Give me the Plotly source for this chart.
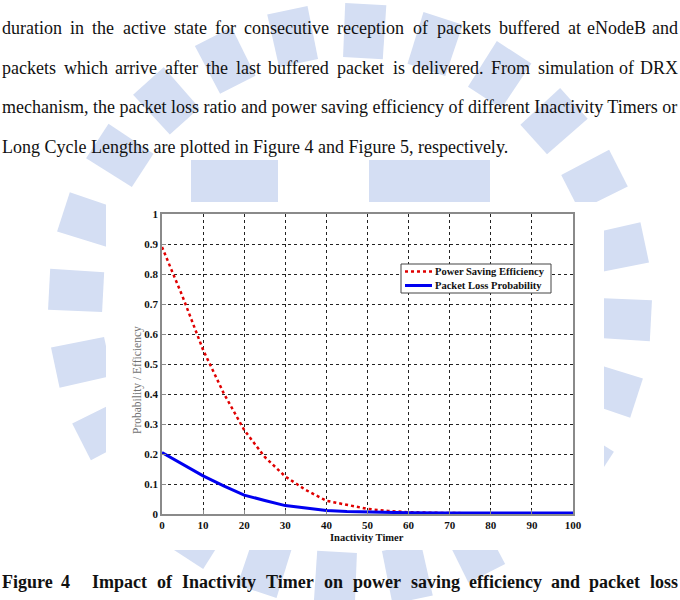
import math
import plotly.graph_objects as go

# ---- data ----
inactivity_timer = [0, 5, 10, 15, 20, 25, 30, 35, 40, 45, 50, 55, 60, 70, 80, 90, 100]
power_saving_eff = [0.89, 0.725, 0.547, 0.403, 0.28, 0.19, 0.125, 0.08, 0.044, 0.03, 0.017, 0.01, 0.006, 0.003, 0.002, 0.002, 0.002]
packet_loss_prob = [0.205, 0.165, 0.127, 0.094, 0.063, 0.045, 0.028, 0.02, 0.012, 0.008, 0.006, 0.005, 0.004, 0.003, 0.003, 0.003, 0.003]
x_ticks = [0, 10, 20, 30, 40, 50, 60, 70, 80, 90, 100]
y_ticks = [0, 0.1, 0.2, 0.3, 0.4, 0.5, 0.6, 0.7, 0.8, 0.9, 1]
y_tick_labels = ["0", "0.1", "0.2", "0.3", "0.4", "0.5", "0.6", "0.7", "0.8", "0.9", "1"]
series_names = ["Power Saving Efficiency", "Packet Loss Probability"]
series_colors = ["#e00000", "#0000f0"]

W, H = 680, 600
def px(x):
    return x / W
def py(y):
    return 1 - y / H

SERIF = "Liberation Serif"

fig = go.Figure()
fig.add_trace(go.Scatter(
    x=inactivity_timer, y=power_saving_eff, mode="lines", name=series_names[0],
    line=dict(color=series_colors[0], width=2.5, dash="dot"), showlegend=False,
))
fig.add_trace(go.Scatter(
    x=inactivity_timer, y=packet_loss_prob, mode="lines", name=series_names[1],
    line=dict(color=series_colors[1], width=3), showlegend=False, cliponaxis=False,
))

axis_common = dict(
    showline=True, linecolor="#8a8a8a", linewidth=1.5, mirror=True,
    showgrid=True, gridcolor="#222222", griddash="dot", gridwidth=1,
    zeroline=False, ticks="inside", ticklen=4, tickcolor="#8a8a8a",
    tickfont=dict(family=SERIF, size=11, color="#111111", weight="bold"),
    automargin=False,
)
fig.update_xaxes(range=[0, 100], tickvals=x_ticks, domain=[px(162), px(573)], **axis_common)
fig.update_yaxes(range=[0, 1], tickvals=y_ticks, ticktext=y_tick_labels,
                 domain=[py(514), py(214)], **axis_common)

# ---- faint watermark (ring of radial bars + blocks), drawn below everything ----
shapes = []
WM = "#d4def3"
cx, cy, r_in, r_out = 350, 305, 248, 302
n_bars, half_w = 24, 4.6
for i in range(n_bars):
    a = math.radians(i * 360 / n_bars + 3)
    d = math.radians(half_w)
    pts = [(cx + r_in * math.cos(a - d), cy + r_in * math.sin(a - d)),
           (cx + r_out * math.cos(a - d * 0.85), cy + r_out * math.sin(a - d * 0.85)),
           (cx + r_out * math.cos(a + d * 0.85), cy + r_out * math.sin(a + d * 0.85)),
           (cx + r_in * math.cos(a + d), cy + r_in * math.sin(a + d))]
    path = "M " + " L ".join(f"{px(x):.5f},{py(y):.5f}" for x, y in pts) + " Z"
    shapes.append(dict(type="path", path=path, xref="paper", yref="paper",
                       fillcolor=WM, line=dict(width=0), layer="below"))
for (x0, y0, x1, y1) in [(191, 160, 278, 205), (369, 160, 490, 205)]:
    shapes.append(dict(type="rect", xref="paper", yref="paper", x0=px(x0), x1=px(x1),
                       y0=py(y1), y1=py(y0), fillcolor=WM, line=dict(width=0), layer="below"))
# opaque chart image area
shapes.append(dict(type="rect", xref="paper", yref="paper", x0=px(106), x1=px(604),
                   y0=py(550), y1=py(202), fillcolor="white", line=dict(width=0), layer="below"))

# ---- legend box (drawn) ----
shapes.append(dict(type="rect", xref="paper", yref="paper", x0=px(401), x1=px(551),
                   y0=py(293), y1=py(264), fillcolor="white",
                   line=dict(color="#444444", width=1), layer="above"))
shapes.append(dict(type="line", xref="paper", yref="paper", x0=px(405), x1=px(432),
                   y0=py(271.5), y1=py(271.5), line=dict(color=series_colors[0], width=2.5, dash="dot"),
                   layer="above"))
shapes.append(dict(type="line", xref="paper", yref="paper", x0=px(405), x1=px(432),
                   y0=py(285.5), y1=py(285.5), line=dict(color=series_colors[1], width=3),
                   layer="above"))

annotations = []
def add_text(t, x, y, size=18, bold=False, xanchor="left", color="#111111", angle=0):
    annotations.append(dict(
        text=t, x=px(x), y=py(y), xref="paper", yref="paper", showarrow=False,
        xanchor=xanchor, yanchor="middle", textangle=angle, borderpad=0,
        font=dict(family=SERIF, size=size, color=color, weight="bold" if bold else "normal"),
    ))

add_text(series_names[0], 434, 271.5, size=10.5, bold=True)
add_text(series_names[1], 434, 285.5, size=10.5, bold=True)

# axis titles
add_text("Inactivity Timer", 367, 537, size=10.5, bold=True, xanchor="center")
add_text("Probability / Efficiency", 137, 380, size=11.5, xanchor="center", color="#707070", angle=-90)

# body text (justified lines placed word by word; last word right-aligned)
line1 = ["duration", "in", "the", "active", "state", "for", "consecutive", "reception",
         "of", "packets", "buffered", "at", "eNodeB"]
line1_x = [0, 68.2, 90.4, 120.6, 171.8, 213, 242.2, 335.4, 411, 435, 497, 566, 585]
line2 = ["packets", "which", "arrive", "after", "the", "last", "buffered", "packet", "is",
         "delivered.", "From", "simulation", "of"]
line2_x = [0, 61.7, 113.4, 163.1, 203.8, 233.5, 266.2, 334.9, 391, 410, 489, 536, 617]
for w, x in zip(line1, line1_x):
    add_text(w, x + 1, 28)
add_text("and", 679, 28, xanchor="right")
for w, x in zip(line2, line2_x):
    add_text(w, x + 1, 68)
add_text("DRX", 679, 68, xanchor="right")
add_text("mechanism, the packet loss ratio and power saving efficiency of different Inactivity Timers or", 1, 107)
add_text("Long Cycle Lengths are plotted in Figure 4 and Figure 5, respectively.", 1, 147)

cap = ["Figure", "4", "Impact", "of", "Inactivity", "Timer", "on", "power", "saving",
       "efficiency", "and", "packet"]
cap_x = [0, 59, 90, 155, 180, 264, 322, 351, 409, 467, 549, 587]
for w, x in zip(cap, cap_x):
    add_text(w, x + 1, 582, bold=True)
add_text("loss", 679, 582, bold=True, xanchor="right")

fig.update_layout(
    width=W, height=H,
    margin=dict(l=0, r=0, t=0, b=0),
    paper_bgcolor="white", plot_bgcolor="rgba(0,0,0,0)",
    annotations=annotations, shapes=shapes,
    showlegend=False,
)

fig.write_html("out.html")
